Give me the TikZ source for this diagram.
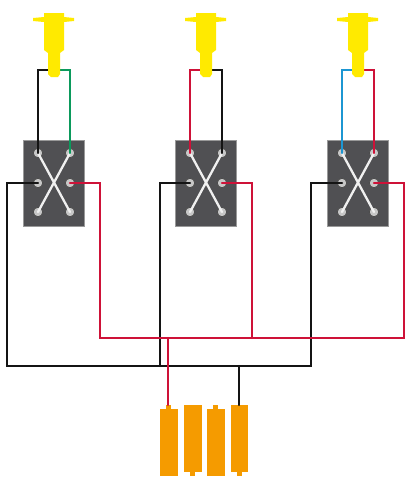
\documentclass[tikz,border=0pt]{standalone}
\definecolor{wblack}{HTML}{141414}
\definecolor{wred}{HTML}{CE1238}
\definecolor{wgreen}{HTML}{0B9A5C}
\definecolor{wblue}{HTML}{1C96D2}
\definecolor{lampy}{HTML}{FFEA00}
\definecolor{batt}{HTML}{F59B00}
\definecolor{boxg}{HTML}{505053}
\tikzset{
  wire/.style={line width=2.2pt,line join=miter,line cap=round},
  cross/.style={white!94!black,line width=2.3pt,line cap=round},
  pin/.style={circle,fill=black!22,draw=black!70,line width=0.8pt,inner sep=0pt,minimum size=9.5pt},
  swbox/.style={fill=boxg,draw=black!40,line width=0.6pt,inner sep=0pt,minimum width=61pt,minimum height=86pt}
}
\begin{document}
\begin{tikzpicture}[x=1pt,y=-1pt]
\useasboundingbox (0,0) rectangle (407,479);
% bus corners
\coordinate (bk1) at (7,366);
\coordinate (bk2) at (160,366);
\coordinate (bk3) at (311,366);
\coordinate (rd1) at (100,338);
\coordinate (rd2) at (252,338);
\coordinate (rd3) at (404,338);
\coordinate (battP) at (168,405);
\coordinate (battN) at (239,405);
\coordinate (tapP) at (168,338);
\coordinate (tapN) at (239,366);
% switches
\foreach \n/\dx in {a/0,b/152,c/304}{
  \begin{scope}[shift={(\dx,0)}]
    \coordinate (\n L) at (54,70);
    \coordinate (\n R) at (54,70);
    \node[swbox] (\n box) at (53.5,183) {};
    \node[pin] (\n 1) at (38,153) {};
    \node[pin] (\n 2) at (70,153) {};
    \node[pin] (\n 3) at (38,183) {};
    \node[pin] (\n 4) at (70,183) {};
    \node[pin] (\n 5) at (38,212) {};
    \node[pin] (\n 6) at (70,212) {};
    \draw[cross] (\n 1.center) -- (\n 6.center);
    \draw[cross] (\n 2.center) -- (\n 5.center);
  \end{scope}
}
% lamp leads
\draw[wire,wblack] (a1.center) |- (aL);
\draw[wire,wgreen] (a2.center) |- (aR);
\draw[wire,wred] (b1.center) |- (bL);
\draw[wire,wblack] (b2.center) |- (bR);
\draw[wire,wblue] (c1.center) |- (cL);
\draw[wire,wred] (c2.center) |- (cR);
% lamps over their leads
\foreach \dx in {0,152,304}{
  \begin{scope}[shift={(\dx,0)}]
    \fill[lampy] (33,18) -- (44,17) -- (44,13) -- (64,13) -- (64,17) -- (74,18) -- (74,21) -- (64,22) -- (64,50) -- (60,53) -- (60,74) -- (58,77) -- (51,77) -- (48,74) -- (48,53) -- (44,50) -- (44,22) -- (33,21) -- cycle;
  \end{scope}
}
% batteries
\fill[batt] (160,409) rectangle (178,476);
\fill[batt] (166,405) rectangle (171,409);
\fill[batt] (184,405) rectangle (202,472);
\fill[batt] (190,472) rectangle (195,476);
\fill[batt] (207,409) rectangle (225,476);
\fill[batt] (213,405) rectangle (218,409);
\fill[batt] (231,405) rectangle (248,472);
\fill[batt] (237,472) rectangle (242,476);
% black supply
\draw[wire,wblack] (a3.center) -| (bk1) -- (bk3) |- (c3.center);
\draw[wire,wblack] (b3.center) -| (bk2);
\draw[wire,wblack] (tapN) -- (battN);
% red supply
\draw[wire,wred] (a4.center) -| (rd1) -- (rd3) |- (c4.center);
\draw[wire,wred] (b4.center) -| (rd2);
\draw[wire,wred] (tapP) -- (battP);
\end{tikzpicture}
\end{document}
